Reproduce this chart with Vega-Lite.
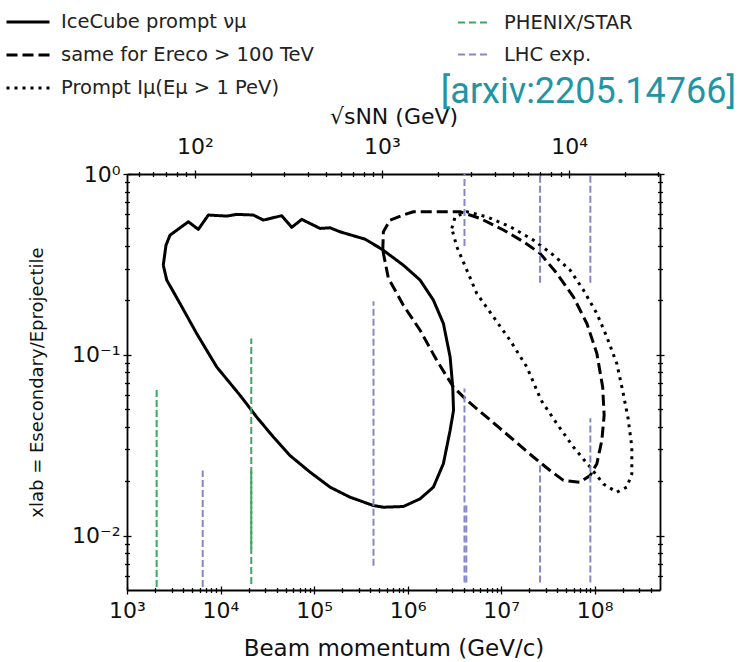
{
  "$schema": "https://vega.github.io/schema/vega-lite/v6.json",
  "autosize": {"type": "none"},
  "padding": {"left": 127, "top": 174, "right": 93, "bottom": 72},
  "width": 533,
  "height": 416,
  "background": "white",
  "title": {"text": "[arxiv:2205.14766]", "anchor": "end", "frame": "group", "dx": 76, "offset": -112, "fontSize": 36, "font": "Roboto", "fontWeight": "normal", "color": "#1f95a5"},
  "datasets": {
    "curves": [
      {"series": "IceCube prompt νμ", "i": 1, "p": 2443, "xlab": 0.313},
      {"series": "IceCube prompt νμ", "i": 2, "p": 2612, "xlab": 0.404},
      {"series": "IceCube prompt νμ", "i": 3, "p": 2884, "xlab": 0.459},
      {"series": "IceCube prompt νμ", "i": 4, "p": 4527, "xlab": 0.544},
      {"series": "IceCube prompt νμ", "i": 5, "p": 5790, "xlab": 0.494},
      {"series": "IceCube prompt νμ", "i": 6, "p": 7410, "xlab": 0.593},
      {"series": "IceCube prompt νμ", "i": 7, "p": 11650, "xlab": 0.585},
      {"series": "IceCube prompt νμ", "i": 8, "p": 14900, "xlab": 0.598},
      {"series": "IceCube prompt νμ", "i": 9, "p": 22440, "xlab": 0.593},
      {"series": "IceCube prompt νμ", "i": 10, "p": 28700, "xlab": 0.556},
      {"series": "IceCube prompt νμ", "i": 11, "p": 45150, "xlab": 0.588},
      {"series": "IceCube prompt νμ", "i": 12, "p": 57700, "xlab": 0.507},
      {"series": "IceCube prompt νμ", "i": 13, "p": 73850, "xlab": 0.561},
      {"series": "IceCube prompt νμ", "i": 14, "p": 115900, "xlab": 0.5},
      {"series": "IceCube prompt νμ", "i": 15, "p": 148300, "xlab": 0.504},
      {"series": "IceCube prompt νμ", "i": 16, "p": 189700, "xlab": 0.479},
      {"series": "IceCube prompt νμ", "i": 17, "p": 351000, "xlab": 0.436},
      {"series": "IceCube prompt νμ", "i": 18, "p": 529700, "xlab": 0.384},
      {"series": "IceCube prompt νμ", "i": 19, "p": 901600, "xlab": 0.313},
      {"series": "IceCube prompt νμ", "i": 20, "p": 1361000, "xlab": 0.259},
      {"series": "IceCube prompt νμ", "i": 21, "p": 1888000, "xlab": 0.2005},
      {"series": "IceCube prompt νμ", "i": 22, "p": 2415000, "xlab": 0.149},
      {"series": "IceCube prompt νμ", "i": 23, "p": 2850000, "xlab": 0.0973},
      {"series": "IceCube prompt νμ", "i": 24, "p": 3040000, "xlab": 0.0663},
      {"series": "IceCube prompt νμ", "i": 25, "p": 3100000, "xlab": 0.0493},
      {"series": "IceCube prompt νμ", "i": 26, "p": 2850000, "xlab": 0.0382},
      {"series": "IceCube prompt νμ", "i": 27, "p": 2415000, "xlab": 0.025},
      {"series": "IceCube prompt νμ", "i": 28, "p": 1888000, "xlab": 0.01853},
      {"series": "IceCube prompt νμ", "i": 29, "p": 1361000, "xlab": 0.01597},
      {"series": "IceCube prompt νμ", "i": 30, "p": 901600, "xlab": 0.01448},
      {"series": "IceCube prompt νμ", "i": 31, "p": 551000, "xlab": 0.01435},
      {"series": "IceCube prompt νμ", "i": 32, "p": 431000, "xlab": 0.01466},
      {"series": "IceCube prompt νμ", "i": 33, "p": 242700, "xlab": 0.0163},
      {"series": "IceCube prompt νμ", "i": 34, "p": 148300, "xlab": 0.01853},
      {"series": "IceCube prompt νμ", "i": 35, "p": 90600, "xlab": 0.02243},
      {"series": "IceCube prompt νμ", "i": 36, "p": 55400, "xlab": 0.0277},
      {"series": "IceCube prompt νμ", "i": 37, "p": 36700, "xlab": 0.0351},
      {"series": "IceCube prompt νμ", "i": 38, "p": 24400, "xlab": 0.0452},
      {"series": "IceCube prompt νμ", "i": 39, "p": 16170, "xlab": 0.0597},
      {"series": "IceCube prompt νμ", "i": 40, "p": 9110, "xlab": 0.0856},
      {"series": "IceCube prompt νμ", "i": 41, "p": 5560, "xlab": 0.131},
      {"series": "IceCube prompt νμ", "i": 42, "p": 3690, "xlab": 0.192},
      {"series": "IceCube prompt νμ", "i": 43, "p": 2660, "xlab": 0.259},
      {"series": "IceCube prompt νμ", "i": 44, "p": 2443, "xlab": 0.313},
      {"series": "same for Ereco > 100 TeV", "i": 1, "p": 543000, "xlab": 0.379},
      {"series": "same for Ereco > 100 TeV", "i": 2, "p": 551000, "xlab": 0.479},
      {"series": "same for Ereco > 100 TeV", "i": 3, "p": 650000, "xlab": 0.556},
      {"series": "same for Ereco > 100 TeV", "i": 4, "p": 901600, "xlab": 0.593},
      {"series": "same for Ereco > 100 TeV", "i": 5, "p": 1153000, "xlab": 0.618},
      {"series": "same for Ereco > 100 TeV", "i": 6, "p": 2415000, "xlab": 0.618},
      {"series": "same for Ereco > 100 TeV", "i": 7, "p": 3640000, "xlab": 0.618},
      {"series": "same for Ereco > 100 TeV", "i": 8, "p": 5960000, "xlab": 0.568},
      {"series": "same for Ereco > 100 TeV", "i": 9, "p": 10590000, "xlab": 0.49},
      {"series": "same for Ereco > 100 TeV", "i": 10, "p": 17330000, "xlab": 0.422},
      {"series": "same for Ereco > 100 TeV", "i": 11, "p": 26100000, "xlab": 0.364},
      {"series": "same for Ereco > 100 TeV", "i": 12, "p": 39400000, "xlab": 0.282},
      {"series": "same for Ereco > 100 TeV", "i": 13, "p": 59300000, "xlab": 0.209},
      {"series": "same for Ereco > 100 TeV", "i": 14, "p": 82600000, "xlab": 0.149},
      {"series": "same for Ereco > 100 TeV", "i": 15, "p": 105700000, "xlab": 0.1016},
      {"series": "same for Ereco > 100 TeV", "i": 16, "p": 121900000, "xlab": 0.0663},
      {"series": "same for Ereco > 100 TeV", "i": 17, "p": 126400000, "xlab": 0.0462},
      {"series": "same for Ereco > 100 TeV", "i": 18, "p": 119400000, "xlab": 0.0336},
      {"series": "same for Ereco > 100 TeV", "i": 19, "p": 105700000, "xlab": 0.025},
      {"series": "same for Ereco > 100 TeV", "i": 20, "p": 89500000, "xlab": 0.0215},
      {"series": "same for Ereco > 100 TeV", "i": 21, "p": 70000000, "xlab": 0.01973},
      {"series": "same for Ereco > 100 TeV", "i": 22, "p": 46400000, "xlab": 0.0202},
      {"series": "same for Ereco > 100 TeV", "i": 23, "p": 33400000, "xlab": 0.0229},
      {"series": "same for Ereco > 100 TeV", "i": 24, "p": 22150000, "xlab": 0.0272},
      {"series": "same for Ereco > 100 TeV", "i": 25, "p": 12480000, "xlab": 0.0351},
      {"series": "same for Ereco > 100 TeV", "i": 26, "p": 7030000, "xlab": 0.0452},
      {"series": "same for Ereco > 100 TeV", "i": 27, "p": 4300000, "xlab": 0.056},
      {"series": "same for Ereco > 100 TeV", "i": 28, "p": 3090000, "xlab": 0.0663},
      {"series": "same for Ereco > 100 TeV", "i": 29, "p": 2050000, "xlab": 0.0932},
      {"series": "same for Ereco > 100 TeV", "i": 30, "p": 1361000, "xlab": 0.1367},
      {"series": "same for Ereco > 100 TeV", "i": 31, "p": 901600, "xlab": 0.188},
      {"series": "same for Ereco > 100 TeV", "i": 32, "p": 623000, "xlab": 0.2654},
      {"series": "same for Ereco > 100 TeV", "i": 33, "p": 543000, "xlab": 0.379},
      {"series": "Prompt Iμ(Eμ > 1 PeV)", "i": 1, "p": 2970000, "xlab": 0.5},
      {"series": "Prompt Iμ(Eμ > 1 PeV)", "i": 2, "p": 3220000, "xlab": 0.58},
      {"series": "Prompt Iμ(Eμ > 1 PeV)", "i": 3, "p": 4300000, "xlab": 0.618},
      {"series": "Prompt Iμ(Eμ > 1 PeV)", "i": 4, "p": 7030000, "xlab": 0.58},
      {"series": "Prompt Iμ(Eμ > 1 PeV)", "i": 5, "p": 12480000, "xlab": 0.511},
      {"series": "Prompt Iμ(Eμ > 1 PeV)", "i": 6, "p": 22150000, "xlab": 0.431},
      {"series": "Prompt Iμ(Eμ > 1 PeV)", "i": 7, "p": 36200000, "xlab": 0.356},
      {"series": "Prompt Iμ(Eμ > 1 PeV)", "i": 8, "p": 54700000, "xlab": 0.294},
      {"series": "Prompt Iμ(Eμ > 1 PeV)", "i": 9, "p": 75900000, "xlab": 0.228},
      {"series": "Prompt Iμ(Eμ > 1 PeV)", "i": 10, "p": 105700000, "xlab": 0.169},
      {"series": "Prompt Iμ(Eμ > 1 PeV)", "i": 11, "p": 135200000, "xlab": 0.1255},
      {"series": "Prompt Iμ(Eμ > 1 PeV)", "i": 12, "p": 172600000, "xlab": 0.0894},
      {"series": "Prompt Iμ(Eμ > 1 PeV)", "i": 13, "p": 199000000, "xlab": 0.0636},
      {"series": "Prompt Iμ(Eμ > 1 PeV)", "i": 14, "p": 228000000, "xlab": 0.0445},
      {"series": "Prompt Iμ(Eμ > 1 PeV)", "i": 15, "p": 250000000, "xlab": 0.0309},
      {"series": "Prompt Iμ(Eμ > 1 PeV)", "i": 16, "p": 250000000, "xlab": 0.022},
      {"series": "Prompt Iμ(Eμ > 1 PeV)", "i": 17, "p": 221000000, "xlab": 0.01853},
      {"series": "Prompt Iμ(Eμ > 1 PeV)", "i": 18, "p": 172600000, "xlab": 0.01738},
      {"series": "Prompt Iμ(Eμ > 1 PeV)", "i": 19, "p": 124200000, "xlab": 0.0193},
      {"series": "Prompt Iμ(Eμ > 1 PeV)", "i": 20, "p": 89500000, "xlab": 0.0239},
      {"series": "Prompt Iμ(Eμ > 1 PeV)", "i": 21, "p": 59300000, "xlab": 0.0309},
      {"series": "Prompt Iμ(Eμ > 1 PeV)", "i": 22, "p": 39400000, "xlab": 0.0416},
      {"series": "Prompt Iμ(Eμ > 1 PeV)", "i": 23, "p": 26800000, "xlab": 0.056},
      {"series": "Prompt Iμ(Eμ > 1 PeV)", "i": 24, "p": 18840000, "xlab": 0.0856},
      {"series": "Prompt Iμ(Eμ > 1 PeV)", "i": 25, "p": 12480000, "xlab": 0.1203},
      {"series": "Prompt Iμ(Eμ > 1 PeV)", "i": 26, "p": 8270000, "xlab": 0.162},
      {"series": "Prompt Iμ(Eμ > 1 PeV)", "i": 27, "p": 5500000, "xlab": 0.218},
      {"series": "Prompt Iμ(Eμ > 1 PeV)", "i": 28, "p": 4300000, "xlab": 0.294},
      {"series": "Prompt Iμ(Eμ > 1 PeV)", "i": 29, "p": 3360000, "xlab": 0.396},
      {"series": "Prompt Iμ(Eμ > 1 PeV)", "i": 30, "p": 2970000, "xlab": 0.5}
    ],
    "rules": [
      {"g": "PHENIX/STAR", "p": 2075, "lo": 0.0052, "hi": 0.065},
      {"g": "PHENIX/STAR", "p": 21320, "lo": 0.0054, "hi": 0.123},
      {"g": "PHENIX/STAR", "p": 21320, "lo": 0.0085, "hi": 0.023},
      {"g": "LHC exp.", "p": 6450, "lo": 0.0052, "hi": 0.0229},
      {"g": "LHC exp.", "p": 432000, "lo": 0.0068, "hi": 0.198},
      {"g": "LHC exp.", "p": 4060000, "lo": 0.4, "hi": 1.0},
      {"g": "LHC exp.", "p": 4060000, "lo": 0.0055, "hi": 0.065},
      {"g": "LHC exp.", "p": 4250000, "lo": 0.0055, "hi": 0.0147},
      {"g": "LHC exp.", "p": 26100000, "lo": 0.25, "hi": 1.0},
      {"g": "LHC exp.", "p": 26100000, "lo": 0.0055, "hi": 0.0244},
      {"g": "LHC exp.", "p": 90000000, "lo": 0.25, "hi": 1.0},
      {"g": "LHC exp.", "p": 90000000, "lo": 0.0055, "hi": 0.0445}
    ]
  },
  "resolve": {"axis": {"x": "independent", "y": "independent"}},
  "layer": [
    {
      "data": {"name": "curves"},
      "mark": {"type": "line", "color": "black", "strokeWidth": 3, "strokeCap": "butt", "strokeJoin": "round"},
      "encoding": {
        "x": {"field": "p", "type": "quantitative",
          "scale": {"type": "log", "domain": [1000, 500000000], "nice": false},
          "axis": {"orient": "bottom",
            "values": [1000,2000,3000,4000,5000,6000,7000,8000,9000,10000,20000,30000,40000,50000,60000,70000,80000,90000,100000,200000,300000,400000,500000,600000,700000,800000,900000,1000000,2000000,3000000,4000000,5000000,6000000,7000000,8000000,9000000,10000000,20000000,30000000,40000000,50000000,60000000,70000000,80000000,90000000,100000000,200000000,300000000,400000000],
            "labelExpr": "abs(log(datum.value)/LN10 - round(log(datum.value)/LN10)) < 0.001 ? ['10³','10⁴','10⁵','10⁶','10⁷','10⁸'][round(log(datum.value)/LN10)-3] : ''",
            "tickSize": {"condition": {"test": "abs(log(datum.value)/LN10 - round(log(datum.value)/LN10)) < 0.001", "value": 4}, "value": 2.5},
            "tickWidth": 1.3,
            "labelFontSize": 22, "labelPadding": 6, "labelFlush": false, "labelOverlap": false,
            "title": "Beam momentum (GeV/c)", "titleFontSize": 23, "titlePadding": 16, "domainWidth": 1.8}},
        "y": {"field": "xlab", "type": "quantitative",
          "scale": {"type": "log", "domain": [0.005, 1], "nice": false},
          "axis": {"orient": "left",
            "values": [0.006,0.007,0.008,0.009,0.01,0.02,0.03,0.04,0.05,0.06,0.07,0.08,0.09,0.1,0.2,0.3,0.4,0.5,0.6,0.7,0.8,0.9,1],
            "labelExpr": "abs(log(datum.value)/LN10 - round(log(datum.value)/LN10)) < 0.001 ? ['10⁻²','10⁻¹','10⁰'][round(log(datum.value)/LN10)+2] : ''",
            "tickSize": {"condition": {"test": "abs(log(datum.value)/LN10 - round(log(datum.value)/LN10)) < 0.001", "value": 4}, "value": 2.5},
            "tickWidth": 1.3,
            "labelFontSize": 22, "labelPadding": 3, "labelFlush": false, "labelOverlap": false,
            "title": "xlab = Esecondary/Eprojectile", "titleFontSize": 18, "titlePadding": 25, "domainWidth": 1.8}},
        "strokeDash": {"field": "series", "type": "nominal",
          "scale": {"domain": ["IceCube prompt νμ", "same for Ereco > 100 TeV", "Prompt Iμ(Eμ > 1 PeV)"], "range": [[1, 0], [11, 5], [3, 5]]},
          "legend": {"orient": "none", "legendX": -122, "legendY": -175, "title": null, "symbolType": "stroke", "symbolSize": 1849, "symbolStrokeWidth": 3, "symbolStrokeColor": "black", "labelFontSize": 19.5, "labelFont": "DejaVu Sans", "labelColor": "#222222", "labelOffset": 10, "rowPadding": -1, "padding": 0, "labelLimit": 400}},
        "order": {"field": "i", "type": "quantitative"}
      }
    },
    {
      "data": {"name": "rules"},
      "mark": {"type": "rule", "strokeWidth": 2, "strokeDash": [7, 3]},
      "encoding": {
        "x": {"field": "p", "type": "quantitative",
          "axis": {"orient": "top",
            "values": [1332.6,1919.0,2611.9,3411.5,4317.7,5330.5,21322,47974,85288,133262,191898,261194,341151,431770,533049,2132196,4797441,8528785,13326226,19189765,26119403,34115139,43176972,53304904,213219616,479744136],
            "labelExpr": "abs(log(sqrt(datum.value*1.876))/LN10 - round(log(sqrt(datum.value*1.876))/LN10)) < 0.01 ? ['10²','10³','10⁴'][round(log(sqrt(datum.value*1.876))/LN10)-2] : ''",
            "tickSize": {"condition": {"test": "abs(log(sqrt(datum.value*1.876))/LN10 - round(log(sqrt(datum.value*1.876))/LN10)) < 0.01", "value": 4}, "value": 2.5},
            "tickWidth": 1.3,
            "labelFontSize": 22, "labelPadding": 12, "labelFlush": false, "labelOverlap": false,
            "title": "√sNN (GeV)", "titleFontSize": 22, "titlePadding": 7, "domainWidth": 1.8}},
        "y": {"field": "lo", "type": "quantitative",
          "axis": {"orient": "right",
            "values": [0.006,0.007,0.008,0.009,0.01,0.02,0.03,0.04,0.05,0.06,0.07,0.08,0.09,0.1,0.2,0.3,0.4,0.5,0.6,0.7,0.8,0.9,1],
            "labels": false,
            "tickSize": {"condition": {"test": "abs(log(datum.value)/LN10 - round(log(datum.value)/LN10)) < 0.001", "value": 4}, "value": 2.5},
            "tickWidth": 1.3, "title": null, "domainWidth": 1.8}},
        "y2": {"field": "hi"},
        "color": {"field": "g", "type": "nominal",
          "scale": {"domain": ["PHENIX/STAR", "LHC exp."], "range": ["#3aa860", "#8787c8"]},
          "legend": {"orient": "none", "legendX": 330, "legendY": -169, "title": null, "symbolType": "stroke", "symbolSize": 1089, "symbolStrokeWidth": 2, "symbolDash": [7, 4], "labelFontSize": 19.5, "labelFont": "DejaVu Sans", "labelColor": "#222222", "labelOffset": 12, "rowPadding": 5, "padding": 0}}
      }
    },
    {
      "data": {"name": "rules"},
      "mark": {"type": "rule", "opacity": 0},
      "encoding": {
        "x": {"field": "p", "type": "quantitative",
          "axis": {"orient": "bottom",
            "values": [1000,2000,3000,4000,5000,6000,7000,8000,9000,10000,20000,30000,40000,50000,60000,70000,80000,90000,100000,200000,300000,400000,500000,600000,700000,800000,900000,1000000,2000000,3000000,4000000,5000000,6000000,7000000,8000000,9000000,10000000,20000000,30000000,40000000,50000000,60000000,70000000,80000000,90000000,100000000,200000000,300000000,400000000],
            "labels": false, "domain": false, "title": null,
            "tickSize": {"condition": {"test": "abs(log(datum.value)/LN10 - round(log(datum.value)/LN10)) < 0.001", "value": -4}, "value": -2.5},
            "tickWidth": 1.3}},
        "y": {"field": "lo", "type": "quantitative",
          "axis": {"orient": "left",
            "values": [0.006,0.007,0.008,0.009,0.01,0.02,0.03,0.04,0.05,0.06,0.07,0.08,0.09,0.1,0.2,0.3,0.4,0.5,0.6,0.7,0.8,0.9,1],
            "labels": false, "domain": false, "title": null,
            "tickSize": {"condition": {"test": "abs(log(datum.value)/LN10 - round(log(datum.value)/LN10)) < 0.001", "value": -4}, "value": -2.5},
            "tickWidth": 1.3}},
        "y2": {"field": "hi"}
      }
    },
    {
      "data": {"name": "rules"},
      "mark": {"type": "rule", "opacity": 0},
      "encoding": {
        "x": {"field": "p", "type": "quantitative",
          "axis": {"orient": "top",
            "values": [1332.6,1919.0,2611.9,3411.5,4317.7,5330.5,21322,47974,85288,133262,191898,261194,341151,431770,533049,2132196,4797441,8528785,13326226,19189765,26119403,34115139,43176972,53304904,213219616,479744136],
            "labels": false, "domain": false, "title": null,
            "tickSize": {"condition": {"test": "abs(log(sqrt(datum.value*1.876))/LN10 - round(log(sqrt(datum.value*1.876))/LN10)) < 0.01", "value": -4}, "value": -2.5},
            "tickWidth": 1.3}},
        "y": {"field": "lo", "type": "quantitative",
          "axis": {"orient": "right",
            "values": [0.006,0.007,0.008,0.009,0.01,0.02,0.03,0.04,0.05,0.06,0.07,0.08,0.09,0.1,0.2,0.3,0.4,0.5,0.6,0.7,0.8,0.9,1],
            "labels": false, "domain": false, "title": null,
            "tickSize": {"condition": {"test": "abs(log(datum.value)/LN10 - round(log(datum.value)/LN10)) < 0.001", "value": -4}, "value": -2.5},
            "tickWidth": 1.3}},
        "y2": {"field": "hi"}
      }
    }
  ],
  "config": {
    "view": {"stroke": null},
    "axis": {"grid": false, "labelFont": "DejaVu Sans", "titleFont": "DejaVu Sans", "labelColor": "#111111", "titleColor": "#111111", "titleFontWeight": "normal", "domainColor": "black", "tickColor": "black"}
  }
}
